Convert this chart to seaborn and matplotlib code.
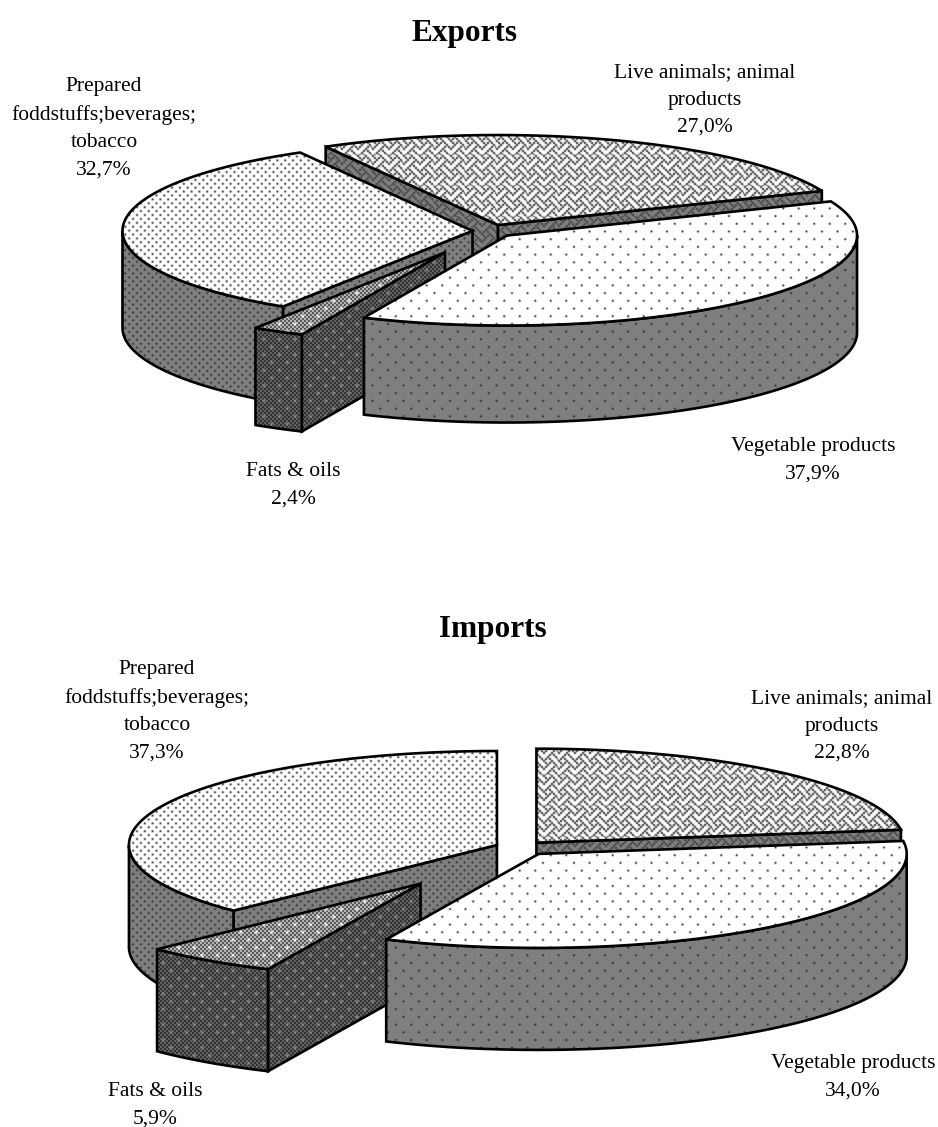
import numpy as np
import matplotlib
matplotlib.use("Agg")
import matplotlib.pyplot as plt
from matplotlib.patches import Polygon
import seaborn as sns

# ---------- data ----------
categories = ["Live animals; animal\nproducts", "Vegetable products", "Fats & oils",
              "Prepared\nfoddstuffs;beverages;\ntobacco"]
exports_share = [27.0, 37.9, 2.4, 32.7]
imports_share = [22.8, 34.0, 5.9, 37.3]

# ---------- layout ----------
W, H = 938, 1127
sns.set_theme(style="white")
plt.rcParams["font.family"] = ["Liberation Serif", "DejaVu Serif"]

yy, xx = np.mgrid[0:H, 0:W]
CELL = 15.5 / 8
WEAVE_BITS = [0x88, 0x54, 0x22, 0x45, 0x88, 0x14, 0x22, 0x51]


def blur(a):
    out = a.copy()
    for ax_ in (0, 1):
        out = 0.2 * np.roll(out, 1, ax_) + 0.6 * out + 0.2 * np.roll(out, -1, ax_)
    return out


def dots(bg, fg, px, py, s):
    r = np.full((H, W), np.inf)
    for ox, oy in ((0, 0), (px / 2, py)):
        dx = (xx - ox + px / 2) % px - px / 2
        dy = (yy - oy + py) % (2 * py) - py
        r = np.minimum(r, dx * dx + dy * dy)
    return bg + (fg - bg) * np.exp(-r / (s * s))


def weave(light, dark):
    tile = np.array([[(b >> (7 - k)) & 1 for k in range(8)] for b in WEAVE_BITS], float)
    ix = (xx / CELL).astype(int) % 8
    iy = (yy / CELL).astype(int) % 8
    return blur(light + (dark - light) * tile[iy, ix])


def fine_dots(lo, hi, spot, px, py):
    base = np.where((xx // 2 + yy // 2) % 2 == 0, lo, hi).astype(float)
    d = dots(0.0, 1.0, px, py, 1.6)
    return base + (spot - base) * d


TEX = {
    "live_top": weave(1.0, 0.12),
    "live_wall": weave(0.5, 0.22),
    "veg_top": dots(1.0, 0.2, 15.5, 7.7, 1.1),
    "veg_wall": dots(0.5, 0.18, 15.5, 7.7, 1.1),
    "fat_top": fine_dots(0.35, 0.7, 1.0, 15.5, 7.7),
    "fat_wall": fine_dots(0.2, 0.38, 0.55, 15.5, 7.7),
    "pre_top": dots(1.0, 0.25, 7.8, 3.9, 1.15),
    "pre_wall": dots(0.5, 0.2, 7.8, 3.9, 1.15),
}
STYLE = [("live_top", "live_wall"), ("veg_top", "veg_wall"),
         ("fat_top", "fat_wall"), ("pre_top", "pre_wall")]

fig = plt.figure(figsize=(W / 100, H / 100), dpi=100, facecolor="white")
ax = fig.add_axes([0, 0, 1, 1])
ax.set_axis_off()
z = [1]


def face(pts, tex):
    patch = Polygon(pts, closed=True, facecolor="none", edgecolor="black",
                    linewidth=1.9, joinstyle="miter", zorder=z[0] + 0.5)
    ax.add_patch(patch)
    im = ax.imshow(TEX[tex], cmap="gray", vmin=0, vmax=1, extent=(0, W, H, 0),
                   origin="upper", aspect="auto", interpolation="nearest", zorder=z[0])
    im.set_clip_path(patch)
    z[0] += 1


def pie3d(values, cx, cy, a, b, depth, start, explode, draw_order):
    vals = np.asarray(values, float)
    sweep = vals / vals.sum() * 360
    ends = start - np.cumsum(sweep)
    starts = ends + sweep
    for i in draw_order:
        t0, t1 = starts[i], ends[i]
        mid = np.radians((t0 + t1) / 2)
        ox = cx + explode[i] * a * np.cos(mid)
        oy = cy - explode[i] * b * np.sin(mid)
        th = np.radians(np.linspace(t0, t1, 160))
        rim = np.column_stack([ox + a * np.cos(th), oy - b * np.sin(th)])
        apex = np.array([ox, oy])
        down = np.array([0, depth])
        topn, walln = STYLE[i]
        # radial walls: visible when their outward normal faces the viewer
        for ang, normal in ((t0, t0 + 90), (t1, t1 - 90)):
            if np.sin(np.radians(normal)) < 0:
                q = np.array([ox + a * np.cos(np.radians(ang)), oy - b * np.sin(np.radians(ang))])
                face([apex, q, q + down, apex + down], walln)
        # curved wall: front part of the rim only
        front = np.sin(th) < 0
        if front.sum() > 1:
            arc = rim[front]
            face(np.vstack([arc, arc[::-1] + down]), walln)
        face(np.vstack([apex, rim]), topn)


def pct(v):
    return f"{v:.1f}".replace(".", ",") + "%"


def labels(values, centers):
    for name, v, (x, y) in zip(categories, values, centers):
        ax.text(x, y, f"{name}\n{pct(v)}", ha="center", va="center", fontsize=15.5,
                color="black", linespacing=1.6, zorder=200)


# Exports
ax.text(464, 33, "Exports", ha="center", va="center", fontsize=22.5, fontweight="bold",
        color="black", zorder=200)
pie3d(exports_share, 490, 231, 350, 90, 97, 119.5, [0.07, 0.07, 0.27, 0.05], [0, 3, 2, 1])
labels(exports_share, [(705, 100), (813, 460), (293, 485), (104, 128.5)])

# Imports
ax.text(493, 629, "Imports", ha="center", va="center", fontsize=22.5, fontweight="bold",
        color="black", zorder=200)
pie3d(imports_share, 520, 847.5, 368, 94, 102, 90, [0.068, 0.085, 0.47, 0.068], [0, 3, 2, 1])
labels(imports_share, [(842, 726), (853, 1077), (155.5, 1105), (157, 711)])

ax.set_xlim(0, W)
ax.set_ylim(H, 0)
sns.despine(ax=ax, left=True, bottom=True)
fig.savefig("out.png", dpi=100, facecolor="white")
